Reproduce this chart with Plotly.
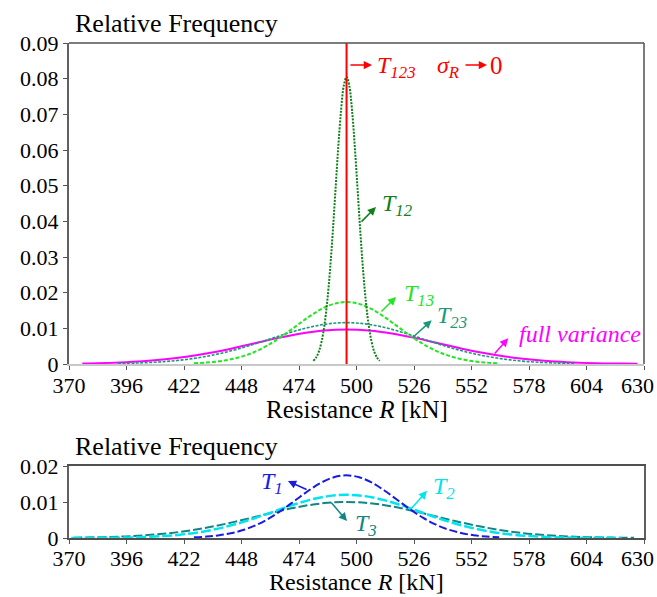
import plotly.graph_objects as go

# ---------------- data ----------------
MEAN_R = 495.5
X_TICKS = [370, 396, 422, 448, 474, 500, 526, 552, 578, 604, 630]
X_TICKTEXT = ["370", "396", "422", "448", "474", "500", "526", "552", "578", "604", ""]
X_LAST_LABEL = "630"
Y_TICKS_TOP = [0, 0.01, 0.02, 0.03, 0.04, 0.05, 0.06, 0.07, 0.08, 0.09]
Y_TICKTEXT_TOP = ["0", "0.01", "0.02", "0.03", "0.04", "0.05", "0.06", "0.07", "0.08", "0.09"]
Y_TICKS_BOT = [0, 0.01, 0.02]
Y_TICKTEXT_BOT = ["0", "0.01", "0.02"]

fv_x = [376, 382.75, 393, 403.25, 413.5, 423.75, 434, 444.25, 454.5, 464.75, 475, 485.25,
        495.5, 505.75, 516, 526.25, 536.5, 546.75, 557, 567.25, 577.5, 587.75, 598, 608.25,
        618.5, 627]
fv_y = [0.00014, 0.00022, 0.00043, 0.00077, 0.00131, 0.0021, 0.00315, 0.00444, 0.00588,
        0.00732, 0.00856, 0.0094, 0.0097, 0.0094, 0.00856, 0.00732, 0.00588, 0.00444,
        0.00315, 0.0021, 0.00131, 0.00077, 0.00043, 0.00022, 0.00011, 0.00005]

t23_x = [392, 400.6, 409.25, 417.9, 426.5, 435.1, 443.75, 452.4, 461, 469.6, 478.25, 486.9,
         495.5, 504.1, 512.75, 521.4, 530, 538.6, 547.25, 555.9, 564.5, 573.1, 581.75, 590.4, 599]
t23_y = [0.00013, 0.00026, 0.00051, 0.00092, 0.00157, 0.00251, 0.00377, 0.00531, 0.00704,
         0.00876, 0.01024, 0.01124, 0.0116, 0.01124, 0.01024, 0.00876, 0.00704, 0.00531,
         0.00377, 0.00251, 0.00157, 0.00092, 0.00051, 0.00026, 0.00013]

t13_x = [426.5, 432.25, 438, 443.75, 449.5, 455.25, 461, 466.75, 472.5, 478.25, 484, 489.75,
         495.5, 501.25, 507, 512.75, 518.5, 524.25, 530, 535.75, 541.5, 547.25, 553, 558.75, 564.5]
t13_y = [0.00019, 0.0004, 0.00076, 0.00139, 0.00235, 0.00376, 0.00565, 0.00797, 0.01055,
         0.01313, 0.01536, 0.01686, 0.0174, 0.01686, 0.01536, 0.01313, 0.01055, 0.00797,
         0.00565, 0.00376, 0.00235, 0.00139, 0.00076, 0.0004, 0.00019]

t12_x = [480.5, 481.75, 483, 484.25, 485.5, 486.75, 488, 489.25, 490.5, 491.75, 493, 494.25,
         495.5, 496.75, 498, 499.25, 500.5, 501.75, 503, 504.25, 505.5, 506.75, 508, 509.25, 510.5]
t12_y = [0.00089, 0.00184, 0.00353, 0.00641, 0.01089, 0.01741, 0.02614, 0.03685, 0.04882,
         0.06076, 0.07104, 0.07802, 0.0805, 0.07802, 0.07104, 0.06076, 0.04882, 0.03685,
         0.02614, 0.01741, 0.01089, 0.00641, 0.00353, 0.00184, 0.00089]

t123_y = [0, 0.09]

t1_x = [426.5, 432.25, 438, 443.75, 449.5, 455.25, 461, 466.75, 472.5, 478.25, 484, 489.75,
        495.5, 501.25, 507, 512.75, 518.5, 524.25, 530, 535.75, 541.5, 547.25, 553, 558.75, 564.5]
t1_y = [0.00019, 0.0004, 0.00076, 0.00139, 0.00235, 0.00376, 0.00565, 0.00797, 0.01055,
        0.01313, 0.01536, 0.01686, 0.0174, 0.01686, 0.01536, 0.01313, 0.01055, 0.00797,
        0.00565, 0.00376, 0.00235, 0.00139, 0.00076, 0.0004, 0.00019]

t2_x = [371, 379.3, 387.6, 395.9, 404.2, 412.5, 420.8, 429.1, 437.4, 445.7, 454, 462.3, 470.6,
        478.9, 487.2, 495.5, 503.8, 512.1, 520.4, 528.7, 537, 545.3, 553.6, 561.9, 570.2,
        578.5, 586.8, 595.1, 603.4, 611.7, 620]
t2_y = [0.00001, 0.00003, 0.00006, 0.00013, 0.00027, 0.00053, 0.00096, 0.00162, 0.0026,
        0.0039, 0.00549, 0.00728, 0.00906, 0.01059, 0.01163, 0.012, 0.01163, 0.01059,
        0.00906, 0.00728, 0.00549, 0.0039, 0.0026, 0.00162, 0.00096, 0.00053, 0.00027,
        0.00013, 0.00006, 0.00003, 0.00001]

t3_x = [372, 375.5, 385.5, 395.5, 405.5, 415.5, 425.5, 435.5, 445.5, 455.5, 465.5, 475.5,
        485.5, 495.5, 505.5, 515.5, 525.5, 535.5, 545.5, 555.5, 565.5, 575.5, 585.5, 595.5,
        605.5, 615.5, 625.5]
t3_y = [0.00008, 0.00011, 0.00023, 0.00044, 0.0008, 0.00135, 0.00216, 0.00325, 0.00458,
        0.00607, 0.00755, 0.00883, 0.00969, 0.01, 0.00969, 0.00883, 0.00755, 0.00607,
        0.00458, 0.00325, 0.00216, 0.00135, 0.0008, 0.00044, 0.00023, 0.00011, 0.00005]

# ---------------- styles ----------------
FONT = "Liberation Serif"
C_FV = "#ff00ff"
C_T23 = "#1a9a78"
C_T13 = "#22e622"
C_T12 = "#0f7f1a"
C_RED = "#ff0000"
C_T1 = "#1a1ae0"
C_T2 = "#00e4f0"
C_T3 = "#138585"
TICK_SIZE = 22

fig = go.Figure()


def add_line(x, y, color, width, dash, xa="x", ya="y"):
    fig.add_trace(go.Scatter(x=x, y=y, mode="lines", xaxis=xa, yaxis=ya,
                             line=dict(color=color, width=width, dash=dash,
                                       shape="spline", smoothing=1.0),
                             hoverinfo="skip", showlegend=False))


# top panel
add_line(fv_x, fv_y, C_FV, 2, "solid")
add_line(t23_x, t23_y, C_T23, 1.6, "3px,1.5px")
add_line(t13_x, t13_y, C_T13, 2, "4px,2px")
add_line(t12_x, t12_y, C_T12, 2, "2px,1.3px")
fig.add_trace(go.Scatter(x=[MEAN_R, MEAN_R], y=t123_y, mode="lines",
                         line=dict(color=C_RED, width=2), hoverinfo="skip",
                         showlegend=False))

# bottom panel
add_line(t3_x, t3_y, C_T3, 2, "9px,3px", "x2", "y2")
add_line(t2_x, t2_y, C_T2, 2.5, "10px,3px", "x2", "y2")
add_line(t1_x, t1_y, C_T1, 2, "8px,3px", "x2", "y2")

XDOM = [69 / 657, 644 / 657]
axis_common = dict(ticks="outside", ticklen=4, tickwidth=1.2, tickcolor="#555",
                   tickfont=dict(family=FONT, size=TICK_SIZE, color="black"),
                   ticklabeloverflow="allow",
                   showgrid=False, zeroline=False, automargin=False)

fig.update_layout(
    width=657, height=597,
    margin=dict(l=0, r=0, t=0, b=0),
    paper_bgcolor="white", plot_bgcolor="white",
    showlegend=False,
    xaxis=dict(domain=XDOM, range=[370, 630], tickvals=X_TICKS, ticktext=X_TICKTEXT,
               anchor="y", showline=True, linecolor="#c8c8c8", linewidth=1.5,
               ticklabelstandoff=-3, **axis_common),
    yaxis=dict(domain=[1 - 364 / 597, 1 - 43 / 597], range=[0, 0.09],
               tickvals=Y_TICKS_TOP, ticktext=Y_TICKTEXT_TOP,
               anchor="x", showline=True, linecolor="#606060", linewidth=2.2,
               **axis_common),
    xaxis2=dict(domain=XDOM, range=[370, 630], tickvals=X_TICKS, ticktext=X_TICKTEXT,
                anchor="y2", showline=True, mirror=True, linecolor="#505050", linewidth=1.5,
                ticklabelstandoff=-4, **axis_common),
    yaxis2=dict(domain=[1 - 538 / 597, 1 - 466 / 597], range=[0, 0.02],
                tickvals=Y_TICKS_BOT, ticktext=Y_TICKTEXT_BOT, anchor="x2",
                showline=True, mirror=True, linecolor="#606060", linewidth=2,
                **axis_common),
)

# top/right frame lines of the upper panel
fig.add_shape(type="line", xref="x domain", yref="y domain", x0=0, x1=1, y0=1, y1=1,
              line=dict(color="#505050", width=1.5))
fig.add_shape(type="line", xref="x domain", yref="y domain", x0=1, x1=1, y0=0, y1=1,
              line=dict(color="#505050", width=1.5))


# titles and texts in paper coordinates
def ptext(x, y, text, size, xanchor="left", yanchor="middle"):
    fig.add_annotation(xref="paper", yref="paper", x=x, y=y, text=text, showarrow=False,
                       xanchor=xanchor, yanchor=yanchor,
                       font=dict(family=FONT, size=size, color="black"))


ptext(73 / 657, 1 - 23 / 597, "Relative Frequency", 26)
ptext(73 / 657, 1 - 446 / 597, "Relative Frequency", 26)
ptext(356.5 / 657, 1 - 409 / 597, "Resistance <i>R</i> [kN]", 25, "center")
ptext(356.5 / 657, 1 - 582 / 597, "Resistance <i>R</i> [kN]", 24, "center")
# last x tick label, nudged inside the page as in the reference
ptext(656 / 657, 1 - 385 / 597, X_LAST_LABEL, TICK_SIZE, "right")
ptext(656 / 657, 1 - 558 / 597, X_LAST_LABEL, TICK_SIZE, "right")


def arrow(x_head, y_head, x_tail, y_tail, color, xa="x", ya="y"):
    fig.add_annotation(x=x_head, y=y_head, ax=x_tail, ay=y_tail, xref=xa, yref=ya,
                       axref=xa, ayref=ya, text="", showarrow=True, arrowhead=2,
                       arrowsize=1.1, arrowwidth=1.5, arrowcolor=color)


def label(x, y, text, color, xa="x", ya="y", xanchor="left", size=24):
    fig.add_annotation(x=x, y=y, xref=xa, yref=ya, text=text, showarrow=False,
                       xanchor=xanchor, yanchor="middle",
                       font=dict(family=FONT, size=size, color=color))


# top annotations
arrow(507.0, 0.0838, 496.6, 0.0838, C_RED)
label(508.2, 0.0832, "<i>T</i><sub><i>123</i></sub>", C_RED)
label(535.3, 0.0832, "<i>σ</i><sub><i>R</i></sub>", C_RED)
arrow(559.0, 0.0838, 548.6, 0.0838, C_RED)
label(559.6, 0.0838, "0", C_RED, size=25)

arrow(508.8, 0.0440, 501.6, 0.0395, C_T12)
label(510.4, 0.0445, "<i>T</i><sub><i>12</i></sub>", C_T12)

arrow(517.9, 0.0188, 510.6, 0.0143, C_T13)
label(520.4, 0.0193, "<i>T</i><sub><i>13</i></sub>", C_T13)

arrow(534.0, 0.0123, 525.0, 0.0072, C_T23)
label(535.3, 0.0132, "<i>T</i><sub><i>23</i></sub>", C_T23)

arrow(568.6, 0.0072, 561.9, 0.0025, C_FV)
label(572.5, 0.0084, "<i>full variance</i>", C_FV)

# bottom annotations
arrow(469.0, 0.0158, 478.1, 0.0133, C_T1, "x2", "y2")
label(467.5, 0.0152, "<i>T</i><sub><i>1</i></sub>", C_T1, "x2", "y2", "right")

arrow(531.9, 0.0131, 524.2, 0.0078, C_T2, "x2", "y2")
label(533.8, 0.0140, "<i>T</i><sub><i>2</i></sub>", C_T2, "x2", "y2")

arrow(495.7, 0.0047, 488.0, 0.0103, C_T3, "x2", "y2")
label(498.2, 0.0037, "<i>T</i><sub><i>3</i></sub>", C_T3, "x2", "y2")

fig.write_html("out.html")
